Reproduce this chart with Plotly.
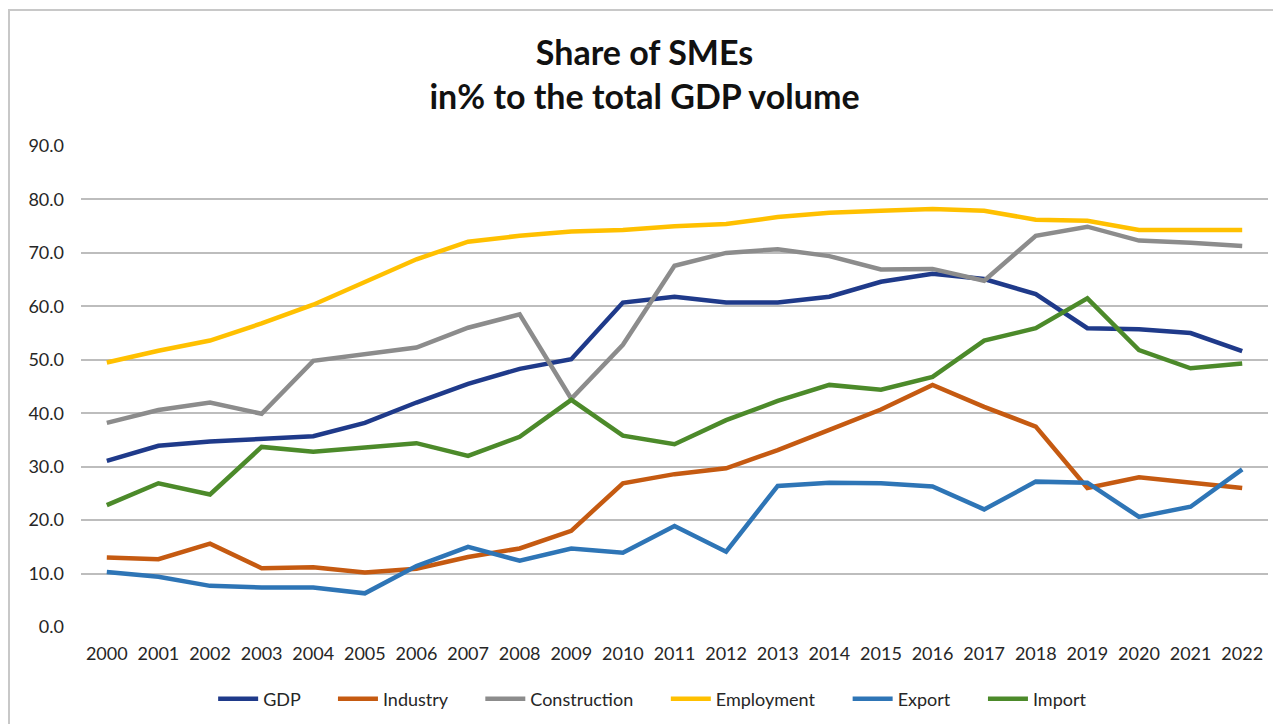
import plotly.graph_objects as go

years = [str(y) for y in range(2000, 2023)]

gdp = [31.1, 33.9, 34.7, 35.1, 35.7, 38.2, 42.0, 45.5, 48.3, 50.1, 60.7, 61.8, 60.7, 60.7, 61.8, 64.6, 66.1, 65.1, 62.3, 55.9, 55.7, 55.0, 51.6]
industry = [13.0, 12.7, 15.6, 11.0, 11.2, 10.2, 10.9, 13.1, 14.7, 18.0, 26.9, 28.6, 29.7, 33.1, 36.9, 40.7, 45.3, 41.2, 37.5, 26.0, 28.0, 27.0, 26.0]
construction = [38.2, 40.6, 42.0, 39.9, 49.8, 51.1, 52.3, 56.0, 58.5, 42.7, 52.8, 67.6, 70.0, 70.7, 69.4, 66.9, 67.0, 64.8, 73.2, 74.9, 72.3, 71.9, 71.3]
employment = [49.5, 51.7, 53.6, 56.8, 60.3, 64.6, 68.8, 72.1, 73.2, 74.0, 74.3, 75.0, 75.4, 76.7, 77.5, 77.9, 78.2, 77.9, 76.2, 76.0, 74.3, 74.3, 74.3]
export = [10.3, 9.4, 7.7, 7.4, 7.4, 6.3, 11.4, 15.0, 12.4, 14.7, 13.9, 18.9, 14.1, 26.4, 27.0, 26.9, 26.3, 22.0, 27.2, 27.0, 20.6, 22.5, 29.5]
imports = [22.8, 26.9, 24.8, 33.7, 32.8, 33.7, 34.4, 32.0, 35.6, 42.5, 35.8, 34.2, 38.7, 42.3, 45.3, 44.4, 46.8, 53.6, 55.9, 61.5, 51.8, 48.4, 49.3]

series_names = ["GDP", "Industry", "Construction", "Employment", "Export", "Import"]
series_values = [gdp, industry, construction, employment, export, imports]
series_colors = ["#1F3A8A", "#C55A11", "#8C8C8C", "#FFC000", "#2E75B6", "#4C8A2A"]

y_ticks = [0, 10, 20, 30, 40, 50, 60, 70, 80, 90]

PAD = "\u00a0" * 6

fig = go.Figure()
for name, vals, col in zip(series_names, series_values, series_colors):
    fig.add_trace(go.Scatter(
        x=years, y=vals, name=name + PAD, mode="lines",
        line=dict(color=col, width=4.5),
    ))

FONT = "Lato, Open Sans, sans-serif"
TXT = "#262626"
fig.update_layout(
    width=1273, height=716,
    margin=dict(l=73, r=13, t=138, b=97),
    paper_bgcolor="white", plot_bgcolor="white",
    title=dict(
        text="<b>Share of SMEs</b><br><b>in% to the total GDP volume</b>",
        x=0.5, xanchor="center", xref="container",
        y=0.92, yanchor="top", yref="container",
        font=dict(family=FONT, size=34, color="#111111"),
    ),
    font=dict(family=FONT, size=18, color=TXT),
    xaxis=dict(
        type="category", range=[-0.5, 22.5], showgrid=False, zeroline=False,
        showline=False, ticks="", tickfont=dict(size=18, color=TXT),
        ticklabelstandoff=14, automargin=False,
    ),
    yaxis=dict(
        range=[0, 90], tickvals=y_ticks, ticktext=[f"{v:.1f}" for v in y_ticks],
        showgrid=True, gridcolor="#BDBDBD", gridwidth=1.5, zeroline=False,
        showline=False, ticks="", tickfont=dict(size=18, color=TXT),
        ticklabelstandoff=16, automargin=False,
    ),
    legend=dict(
        orientation="h", x=0.517, xanchor="center", xref="container",
        y=0.035, yanchor="middle", yref="container",
        font=dict(size=18, color=TXT), itemwidth=40,
        traceorder="normal",
    ),
    shapes=[dict(
        type="rect", xref="paper", yref="paper",
        x0=(1 - 73) / 1187, x1=1.05, y0=-0.5, y1=(619 - 2) / 481,
        line=dict(color="#C8C8C8", width=2), fillcolor="rgba(0,0,0,0)", layer="below",
    )],
)

fig.write_html("out.html")
